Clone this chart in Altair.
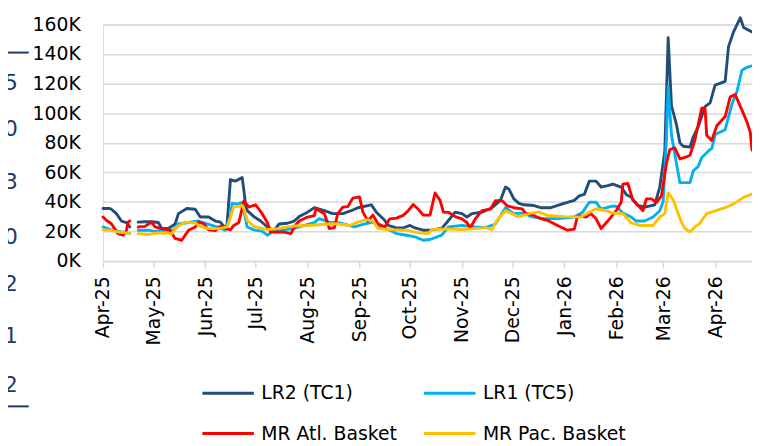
import altair as alt
import pandas as pd

SERIES = ["LR2 (TC1)", "LR1 (TC5)", "MR Atl. Basket", "MR Pac. Basket"]
COLORS = ["#1F4E79", "#00B0F0", "#FF0000", "#FFC000"]

# values in thousands (K)
lr2_dates = [
    "2025-04-01", "2025-04-05", "2025-04-06", "2025-04-09", "2025-04-12", "2025-04-15", "2025-04-17",
    "2025-04-22", "2025-04-26", "2025-04-30", "2025-05-04", "2025-05-06", "2025-05-10", "2025-05-14",
    "2025-05-16", "2025-05-21", "2025-05-26", "2025-05-29", "2025-06-03", "2025-06-07", "2025-06-10",
    "2025-06-13", "2025-06-14", "2025-06-16", "2025-06-19", "2025-06-23", "2025-06-24", "2025-06-25",
    "2025-06-26", "2025-06-30", "2025-07-04", "2025-07-07", "2025-07-09", "2025-07-12", "2025-07-15",
    "2025-07-20", "2025-07-24", "2025-07-27", "2025-08-01", "2025-08-05", "2025-08-11", "2025-08-16",
    "2025-08-22", "2025-08-27", "2025-08-31", "2025-09-08", "2025-09-11", "2025-09-16", "2025-09-18",
    "2025-09-23", "2025-09-27", "2025-10-01", "2025-10-04", "2025-10-09", "2025-10-14", "2025-10-20",
    "2025-10-23", "2025-10-28", "2025-11-01", "2025-11-04", "2025-11-07", "2025-11-13", "2025-11-19",
    "2025-11-24", "2025-11-27", "2025-11-29", "2025-12-02", "2025-12-05", "2025-12-08", "2025-12-14",
    "2025-12-18", "2025-12-24", "2025-12-31", "2026-01-07", "2026-01-10", "2026-01-13", "2026-01-16",
    "2026-01-20", "2026-01-23", "2026-01-27", "2026-01-30", "2026-02-04", "2026-02-07", "2026-02-10",
    "2026-02-14", "2026-02-18", "2026-02-24", "2026-02-27", "2026-03-02", "2026-03-04", "2026-03-06",
    "2026-03-09", "2026-03-11", "2026-03-13", "2026-03-17", "2026-03-19", "2026-03-22", "2026-03-26",
    "2026-03-29", "2026-04-01", "2026-04-07", "2026-04-09", "2026-04-12", "2026-04-16", "2026-04-18",
    "2026-04-23",
]
lr2_values = [
    35.5, 35.5, 35, 32, 27, 26, 23,
    26.3, 26.5, 26.5, 26, 22, 22, 25,
    32, 35.5, 35, 29.7, 29.7, 27, 26.3,
    22, 25, 55, 54, 56.4, 48, 38,
    34, 30, 27, 24, 22, 20.5, 25,
    25.5, 27, 30, 33, 36, 34, 32,
    32, 34, 36, 38, 33, 27.5, 24,
    22.3, 22.3, 24, 22.3, 20.8, 21, 22,
    26, 33, 32, 29.7, 32, 33, 36,
    41, 50, 48.7, 42, 39, 38, 37.5,
    36, 36, 38.6, 41, 44, 45, 54,
    54, 50, 51, 52, 50, 45, 43,
    37.5, 36.4, 38, 50, 74, 151, 105,
    92, 80, 77.6, 77, 84, 91, 104.4,
    107, 119, 121.5, 145, 155, 164.5, 158,
    155,
]

lr1_dates = [
    "2025-04-01", "2025-04-06", "2025-04-12", "2025-04-17",
    "2025-04-22", "2025-04-28", "2025-05-02", "2025-05-06", "2025-05-13", "2025-05-16", "2025-05-22",
    "2025-05-28", "2025-06-03", "2025-06-08", "2025-06-13", "2025-06-16", "2025-06-17", "2025-06-20",
    "2025-06-23", "2025-06-26", "2025-06-30", "2025-07-05", "2025-07-08", "2025-07-12", "2025-07-18",
    "2025-07-24", "2025-07-30", "2025-08-05", "2025-08-08", "2025-08-14", "2025-08-20", "2025-08-29",
    "2025-09-03", "2025-09-09", "2025-09-13", "2025-09-19", "2025-09-23", "2025-09-29", "2025-10-04",
    "2025-10-09", "2025-10-13", "2025-10-20", "2025-10-24", "2025-11-01", "2025-11-09", "2025-11-15",
    "2025-11-21", "2025-11-27", "2025-12-02", "2025-12-08", "2025-12-12", "2025-12-20", "2025-12-28",
    "2026-01-07", "2026-01-12", "2026-01-16", "2026-01-20", "2026-01-23", "2026-01-29", "2026-02-01",
    "2026-02-05", "2026-02-10", "2026-02-13", "2026-02-18", "2026-02-23", "2026-02-27", "2026-03-01",
    "2026-03-03", "2026-03-04", "2026-03-06", "2026-03-08", "2026-03-11", "2026-03-17", "2026-03-19",
    "2026-03-22", "2026-03-24", "2026-03-29", "2026-03-30", "2026-04-01", "2026-04-07", "2026-04-11",
    "2026-04-14", "2026-04-17", "2026-04-20", "2026-04-23",
]
lr1_values = [
    23, 21, 19.6, 18.5,
    20.8, 20.8, 20, 20.8, 21, 25, 26,
    27, 24.8, 23, 20.8, 30, 39, 38.4,
    39.6, 23, 21, 20, 17.4, 20.7, 21,
    22, 24, 26, 28.6, 26.3, 25.7, 23,
    24.8, 26.3, 23, 20.8, 18.5, 17.4, 16.3,
    14, 14.5, 17.4, 23, 24, 23, 22.5,
    25, 36, 32, 32.4, 30, 28.6, 28.6,
    29.7, 33, 39.7, 39.7, 35, 37, 37,
    32.4, 29.7, 27, 27, 29.7, 34, 40,
    83, 118, 85, 72, 53, 53, 61,
    64, 70, 75.4, 76, 85.5, 88.8, 106,
    114.5, 129, 131, 132,
]

atl_dates = [
    "2025-04-01", "2025-04-03", "2025-04-06", "2025-04-09", "2025-04-10", "2025-04-13", "2025-04-15",
    "2025-04-16", "2025-04-17",
    "2025-04-22", "2025-04-26", "2025-04-30", "2025-05-02", "2025-05-06", "2025-05-11", "2025-05-14",
    "2025-05-18", "2025-05-22", "2025-05-26", "2025-05-28", "2025-05-31", "2025-06-03", "2025-06-07",
    "2025-06-10", "2025-06-13", "2025-06-16", "2025-06-18", "2025-06-21", "2025-06-24", "2025-06-27",
    "2025-07-01", "2025-07-05", "2025-07-08", "2025-07-10", "2025-07-14", "2025-07-18", "2025-07-22",
    "2025-07-25", "2025-07-27", "2025-08-01", "2025-08-05", "2025-08-06", "2025-08-11", "2025-08-14",
    "2025-08-17", "2025-08-19", "2025-08-22", "2025-08-25", "2025-08-28", "2025-09-01", "2025-09-03",
    "2025-09-06", "2025-09-09", "2025-09-12", "2025-09-16", "2025-09-19", "2025-09-23", "2025-09-27",
    "2025-09-30", "2025-10-03", "2025-10-06", "2025-10-09", "2025-10-13", "2025-10-16", "2025-10-19",
    "2025-10-21", "2025-10-24", "2025-10-28", "2025-11-01", "2025-11-04", "2025-11-06", "2025-11-09",
    "2025-11-13", "2025-11-18", "2025-11-21", "2025-11-25", "2025-11-28", "2025-12-02", "2025-12-07",
    "2025-12-09", "2025-12-14", "2025-12-18", "2025-12-22", "2025-12-28", "2026-01-03", "2026-01-07",
    "2026-01-09", "2026-01-14", "2026-01-17", "2026-01-20", "2026-01-23", "2026-01-27", "2026-02-01",
    "2026-02-04", "2026-02-05", "2026-02-08", "2026-02-11", "2026-02-14", "2026-02-17", "2026-02-19",
    "2026-02-22", "2026-02-25", "2026-02-28", "2026-03-03", "2026-03-05", "2026-03-08", "2026-03-11",
    "2026-03-14", "2026-03-17", "2026-03-20", "2026-03-24", "2026-03-26", "2026-03-27", "2026-03-30",
    "2026-04-02", "2026-04-07", "2026-04-10", "2026-04-13", "2026-04-17", "2026-04-20", "2026-04-22",
    "2026-04-23",
]
atl_values = [
    29.7, 27.5, 25.2, 20, 18.5, 17.4, 20.8,
    26.3, 27,
    23, 23.4, 26.3, 23, 21.9, 20.8, 15.2,
    14, 20.8, 23, 26.3, 25.2, 21, 20.5,
    23.5, 22, 21, 24, 26, 40.5, 36.5,
    38, 31.8, 26, 19.6, 19.6, 19.5, 18.5,
    24.5, 27, 29.7, 30.7, 35.3, 32, 21.9,
    22.5, 32, 36.4, 36.8, 42.5, 43.3, 33,
    27, 31, 25.2, 23, 28.5, 29, 30.8,
    34, 38.2, 35, 31, 31, 46, 41,
    33, 32.9, 30, 28.5, 26, 22.5, 28.4,
    34, 35, 40.7, 40.7, 37.3, 36, 35.2,
    32.4, 30.8, 28.6, 27.5, 24, 20.8, 21.5,
    30.5, 29.7, 32, 28.6, 21.9, 27, 34,
    39.7, 52, 52.4, 41, 37.5, 34, 42,
    42, 39.7, 44, 66, 75.4, 76.5, 69,
    70, 71.5, 82, 103.3, 103.3, 85, 81.5,
    91.5, 97.7, 111, 112.5, 102, 94, 87,
    75,
]

pac_dates = [
    "2025-04-01", "2025-04-05", "2025-04-10", "2025-04-15", "2025-04-17",
    "2025-04-22", "2025-04-28", "2025-05-04", "2025-05-12", "2025-05-15", "2025-05-20", "2025-05-26",
    "2025-05-29", "2025-06-03", "2025-06-09", "2025-06-14", "2025-06-18", "2025-06-23", "2025-06-24",
    "2025-06-26", "2025-06-30", "2025-07-08", "2025-07-14", "2025-07-20", "2025-07-26", "2025-08-02",
    "2025-08-11", "2025-08-18", "2025-08-26", "2025-08-31", "2025-09-05", "2025-09-09", "2025-09-12",
    "2025-09-19", "2025-09-29", "2025-10-06", "2025-10-12", "2025-10-14", "2025-10-22", "2025-11-01",
    "2025-11-09", "2025-11-15", "2025-11-19", "2025-11-22", "2025-11-27", "2025-12-01", "2025-12-04",
    "2025-12-08", "2025-12-12", "2025-12-17", "2025-12-22", "2026-01-01", "2026-01-11", "2026-01-16",
    "2026-01-20", "2026-01-26", "2026-01-30", "2026-02-05", "2026-02-10", "2026-02-15", "2026-02-23",
    "2026-02-27", "2026-03-02", "2026-03-04", "2026-03-07", "2026-03-09", "2026-03-12", "2026-03-14",
    "2026-03-17", "2026-03-20", "2026-03-23", "2026-03-24", "2026-03-27", "2026-04-01", "2026-04-07",
    "2026-04-12", "2026-04-18", "2026-04-23",
]
pac_values = [
    21.2, 20.8, 19.6, 19, 18.5,
    18.5, 17.9, 19, 18.5, 23, 26.3, 25.7,
    23.4, 21.9, 21.9, 23, 36.4, 37.5, 35.3,
    27.5, 23.4, 21.2, 21.9, 23, 23.8, 24,
    24.8, 25.2, 24, 26.3, 27.9, 27, 21.9,
    21.2, 20.8, 19, 18.5, 21.2, 21.7, 21.2,
    21.9, 22.5, 21.2, 27.5, 34, 32, 30,
    30.8, 32.4, 33, 30.8, 30, 29.7, 33,
    35.3, 34, 32.4, 32, 25.7, 24, 24,
    29.7, 32, 46, 41.5, 35, 26, 22,
    19.8, 23, 25.5, 27.4, 32, 33.8, 36,
    38.6, 43, 45.3,
]

Y_TICKS = [0, 20, 40, 60, 80, 100, 120, 140, 160]
MONTH_TICKS = [(2025, m) for m in range(4, 13)] + [(2026, m) for m in range(1, 5)]

# neighbouring chart fragments visible at the left edge of the reference
side_labels = ["45", "60", "13", "40", "72", "11", "52"]

rows = []
for name, dates, vals in [
    (SERIES[0], lr2_dates, lr2_values),
    (SERIES[1], lr1_dates, lr1_values),
    (SERIES[2], atl_dates, atl_values),
    (SERIES[3], pac_dates, pac_values),
]:
    for d, v in zip(dates, vals):
        rows.append({"date": d, "value": v, "series": name,
                     "seg": 0 if d <= "2025-04-17" else 1})
df = pd.DataFrame(rows)

FONT = "DejaVu Sans"

x_scale = alt.Scale(
    type="utc",
    domain=[alt.DateTime(year=2025, month=4, date=1, utc=True),
            alt.DateTime(year=2026, month=4, date=23, utc=True)],
)

lines = alt.Chart(df).mark_line(strokeWidth=2.9, strokeJoin="round", strokeCap="round").encode(
    x=alt.X(
        "date:T",
        scale=x_scale,
        title=None,
        axis=alt.Axis(
            values=[alt.DateTime(year=y, month=m, date=1, utc=True) for y, m in MONTH_TICKS],
            format="%b-%y",
            labelAngle=-90,
            labelFontSize=19,
            labelFont=FONT,
            labelColor="#000000",
            labelOverlap=False,
            labelBound=False,
            labelFlush=False,
            labelPadding=8,
            grid=False,
            domainColor="#D9D9D9",
            domainWidth=1.5,
            tickColor="#D9D9D9",
            tickWidth=1.5,
            tickSize=7,
        ),
    ),
    y=alt.Y(
        "value:Q",
        scale=alt.Scale(domain=[0, 160], nice=False),
        title=None,
        axis=alt.Axis(
            values=Y_TICKS,
            labelExpr="datum.value + 'K'",
            labelFontSize=19,
            labelFont=FONT,
            labelColor="#000000",
            labelPadding=23,
            domain=False,
            ticks=False,
            grid=True,
            gridColor="#D9D9D9",
            gridWidth=1.5,
        ),
    ),
    color=alt.Color(
        "series:N",
        scale=alt.Scale(domain=SERIES, range=COLORS),
        legend=alt.Legend(
            orient="none",
            direction="horizontal",
            legendX=99,
            legendY=345,
            columns=2,
            title=None,
            symbolType="stroke",
            symbolSize=2704,
            symbolStrokeWidth=3,
            labelFontSize=19,
            labelFont=FONT,
            labelColor="#000000",
            labelOffset=6,
            labelLimit=400,
            columnPadding=20,
            rowPadding=3,
        ),
    ),
    detail="seg:N",
)

one = pd.DataFrame({"k": [0]})
side_y = [59.7, 105.7, 159.7, 214.7, 262.7, 314.7, 364.7]
decos = []
for lab, yy in zip(side_labels, side_y):
    decos.append(
        alt.Chart(one).mark_text(
            text=lab, align="right", baseline="middle", fontSize=22, font=FONT, color="#1F3864"
        ).encode(x=alt.value(-86), y=alt.value(yy))
    )
for yy in [28.4, 386]:
    decos.append(
        alt.Chart(one).mark_rule(color="#1F3864", strokeWidth=2).encode(
            x=alt.value(-104), x2=alt.value(-75), y=alt.value(yy)
        )
    )

chart = alt.layer(lines, *decos).properties(
    width=656,
    height=239,
    autosize=alt.AutoSizeParams(type="none"),
    padding={"left": 96, "top": 14.3, "right": 0, "bottom": 184.7},
).configure_view(stroke=None).configure(font=FONT)

chart.save("out.html", embed_options={"renderer": "svg", "actions": False})
